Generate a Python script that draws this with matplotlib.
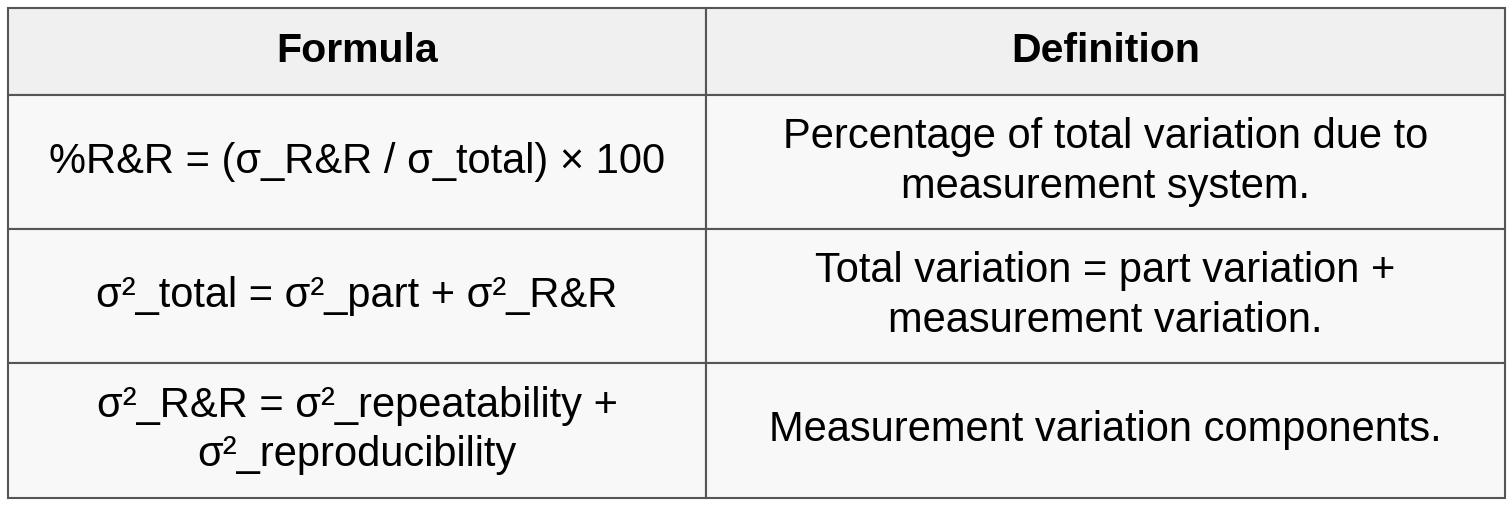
import matplotlib
matplotlib.use("Agg")
import matplotlib.pyplot as plt
from matplotlib.patches import Rectangle

headers = ["Formula", "Definition"]
formulas = ["%R&R = (σ_R&R / σ_total) × 100",
            "σ²_total = σ²_part + σ²_R&R",
            "σ²_R&R = σ²_repeatability +\nσ²_reproducibility"]
definitions = ["Percentage of total variation due to\nmeasurement system.",
               "Total variation = part variation +\nmeasurement variation.",
               "Measurement variation components."]

W, H = 1512, 507
fig = plt.figure(figsize=(W/100, H/100), dpi=100)
ax = fig.add_axes([0, 0, 1, 1])
ax.set_xlim(0, W); ax.set_ylim(H, 0); ax.axis("off")

x0, xm, x1 = 8, 706, 1505
rows_y = [8, 95, 229, 363, 498]
font = "Liberation Sans"

for i in range(4):
    ya, yb = rows_y[i], rows_y[i+1]
    bg = "#f0f0f0" if i == 0 else "#f8f8f8"
    for xa, xb in [(x0, xm), (xm, x1)]:
        ax.add_patch(Rectangle((xa, ya), xb-xa, yb-ya, facecolor=bg,
                               edgecolor="#555555", linewidth=1.5))
    yc = (ya + yb) / 2
    if i == 0:
        cells = headers
        kw = dict(fontsize=29.5, fontweight="bold")
    else:
        cells = [formulas[i-1], definitions[i-1]]
        kw = dict(fontsize=30)
    ax.text((x0+xm)/2, yc, cells[0], ha="center", va="center", family=font,
            linespacing=1.3, color="black", **kw)
    ax.text((xm+x1)/2, yc, cells[1], ha="center", va="center", family=font,
            linespacing=1.3, color="black", **kw)

fig.savefig("out.png", dpi=100, facecolor="white")
